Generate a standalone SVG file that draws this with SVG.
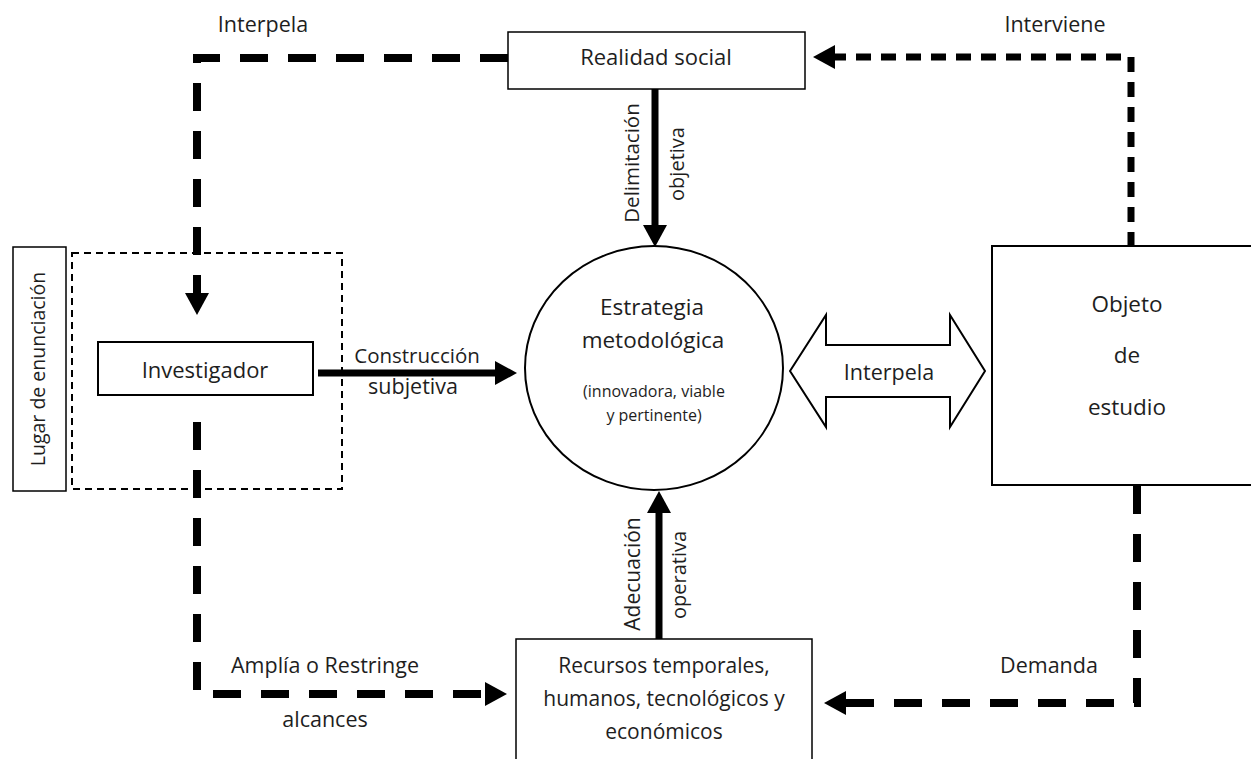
<svg xmlns="http://www.w3.org/2000/svg" width="1251" height="759" viewBox="0 0 1251 759">
<style>
text{font-family:"Open Sans","Noto Sans","Liberation Sans",sans-serif;fill:#1e1e1e;text-anchor:middle}
.t{font-size:21.5px}
.s{font-size:16px}
.box{fill:#fff;stroke:#000;stroke-width:1.5}
.dash{fill:none;stroke:#000;stroke-width:8;stroke-dasharray:28 20}
.solid{fill:none;stroke:#000;stroke-width:7}
</style>
<defs>
<marker id="ah" markerUnits="userSpaceOnUse" markerWidth="22" markerHeight="24" refX="3" refY="12" orient="auto">
<path d="M0,0 L22,12 L0,24 Z" fill="#000"/>
</marker>
</defs>
<rect width="1251" height="759" fill="#fff"/>
<g id="connectors">
<path class="dash" d="M508,58 H197 V296" marker-end="url(#ah)"/>
<path class="dash" style="stroke-width:7;stroke-dasharray:15 10" d="M1131,247 V57 H832" marker-end="url(#ah)"/>
<path class="dash" d="M1137,486 V703 H843" marker-end="url(#ah)"/>
<path class="dash" d="M197,422 V694 H488" marker-end="url(#ah)"/>
<path class="solid" d="M655,89 V228" marker-end="url(#ah)"/>
<path class="solid" d="M318,373 H498" marker-end="url(#ah)"/>
<path class="solid" d="M659,639 V510" marker-end="url(#ah)"/>
<path d="M790,371 L826,315 L826,345 L950,345 L950,315 L985,371 L950,427 L950,397 L826,397 L826,427 Z" fill="#fff" stroke="#000" stroke-width="2"/>
<text class="t" x="889" y="380">Interpela</text>
<text class="t" x="263" y="32">Interpela</text>
<text class="t" x="1055" y="32">Interviene</text>
<text class="t" x="1049" y="673">Demanda</text>
<text class="t" x="325" y="673">Amplía o Restringe</text>
<text class="t" x="325" y="727">alcances</text>
<text class="t" x="417" y="363" style="font-size:20.5px">Construcción</text>
<text class="t" x="413" y="394">subjetiva</text>
<text class="t" transform="translate(639,163) rotate(-90)" style="font-size:20.5px">Delimitación</text>
<text class="t" transform="translate(684,164) rotate(-90)" style="font-size:20px">objetiva</text>
<text class="t" transform="translate(640,574) rotate(-90)" style="font-size:21px">Adecuación</text>
<text class="t" transform="translate(686,575) rotate(-90)" style="font-size:20px">operativa</text>
</g>
<g id="lugar">
<rect x="13" y="247" width="53" height="244" class="box"/>
<text class="t" transform="translate(45,369) rotate(-90)" style="font-size:19.5px">Lugar de enunciación</text>
</g>
<g id="lugar-area">
<rect x="72" y="253" width="270" height="236" fill="none" stroke="#000" stroke-width="2" stroke-dasharray="7 5"/>
</g>
<g id="realidad">
<rect x="508" y="32" width="297" height="57" class="box"/>
<text class="t" x="656" y="65" style="font-size:22px">Realidad social</text>
</g>
<g id="investigador">
<rect x="98" y="342" width="215" height="53" class="box" style="stroke-width:2"/>
<text class="t" x="205" y="378" style="font-size:22px">Investigador</text>
</g>
<g id="estrategia">
<ellipse cx="654" cy="368" rx="129" ry="122" fill="#fff" stroke="#000" stroke-width="2"/>
<text class="t" x="652" y="315" style="font-size:22.5px">Estrategia</text>
<text class="t" x="653" y="348" style="font-size:22.5px">metodológica</text>
<text class="s" x="654" y="397">(innovadora, viable</text>
<text class="s" x="654" y="421">y pertinente)</text>
</g>
<g id="objeto">
<rect x="992" y="246" width="280" height="239" class="box" style="stroke-width:2"/>
<text class="t" x="1127" y="312" style="font-size:22.5px">Objeto</text>
<text class="t" x="1127" y="363" style="font-size:22.5px">de</text>
<text class="t" x="1127" y="415" style="font-size:22.5px">estudio</text>
</g>
<g id="recursos">
<rect x="516" y="639" width="296" height="140" class="box"/>
<text class="t" x="664" y="673" style="font-size:21px">Recursos temporales,</text>
<text class="t" x="664" y="706" style="font-size:21px">humanos, tecnológicos y</text>
<text class="t" x="664" y="739" style="font-size:21px">económicos</text>
</g>
</svg>
